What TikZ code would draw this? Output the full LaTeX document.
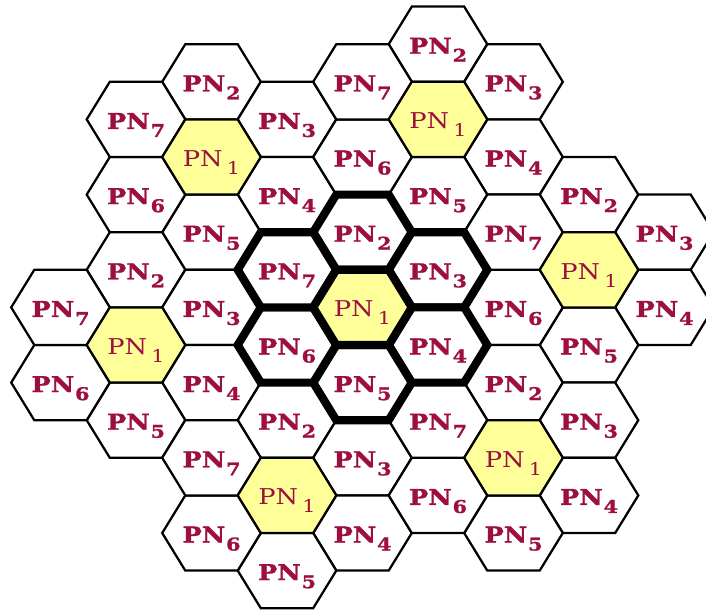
\documentclass[tikz,border=0pt]{standalone}
\usepackage{fontspec}
\newfontfamily\pnfont[FakeStretch=1.18, BoldFeatures={FakeBold=1.2}]{DejaVu Serif}
\definecolor{colRed}{HTML}{9C0F3F}
\definecolor{colYellow}{HTML}{FFFF99}
\def\lblfont{\fontsize{15.5pt}{17pt}\selectfont}
\def\subfont{\fontsize{12.5pt}{13pt}\selectfont}
\newcommand{\pn}[1]{\pnfont\bfseries PN\kern0.6pt\raisebox{-5.7pt}{\subfont #1}}
\newcommand{\pnone}{\pnfont PN\kern3pt\raisebox{-5.7pt}{\subfont 1}}
\tikzset{
  cell/.style={draw=black, line width=1.6pt, fill=white},
  core/.style={line width=5.8pt},
  lbl/.style={anchor=base, inner sep=0pt, font=\lblfont, text=colRed}
}
\newcommand{\hexat}[3]{%
  \draw[#1] (#2-49.3,#3) -- (#2-26.2,#3-37.6) -- (#2+26.2,#3-37.6)
    -- (#2+49.3,#3) -- (#2+26.2,#3+37.6) -- (#2-26.2,#3+37.6) -- cycle;}
\newcommand{\hcell}[5][]{%
  \pgfmathsetmacro{\cx}{362.5+75.5*(#2)}%
  \pgfmathsetmacro{\cy}{307.4+37.6*(#3)}%
  \hexat{cell,#1}{\cx}{\cy}%
  \node[lbl] (#4#5) at (\cx,\cy+9.5) {\pn{#5}};}
\newcommand{\ycell}[4][]{%
  \pgfmathsetmacro{\cx}{362.5+75.5*(#2)}%
  \pgfmathsetmacro{\cy}{307.4+37.6*(#3)}%
  \hexat{cell,fill=colYellow,#1}{\cx}{\cy}%
  \node[lbl] (#41) at (\cx,\cy+9.5) {\pnone};}

\begin{document}
\begin{tikzpicture}[x=0.025cm, y=-0.025cm]
\useasboundingbox (0,0) rectangle (706,612);
\clip (0,0) rectangle (706,612);

% ===================== TOP-LEFT CLUSTER =====================
\hcell{-2}{-6}{tl}{2}
\hcell{-1}{-5}{tl}{3}
\hcell{-1}{-3}{tl}{4}
\hcell{-2}{-2}{tl}{5}
\hcell{-3}{-3}{tl}{6}
\hcell{-3}{-5}{tl}{7}
\ycell{-2}{-4}{tl}

% ===================== TOP CLUSTER =====================
\hcell{1}{-7}{top}{2}
\hcell{2}{-6}{top}{3}
\hcell{2}{-4}{top}{4}
\hcell{1}{-3}{top}{5}
\hcell{0}{-4}{top}{6}
\hcell{0}{-6}{top}{7}
\ycell{1}{-5}{top}

% ===================== RIGHT CLUSTER =====================
\hcell{3}{-3}{rgt}{2}
\hcell{4}{-2}{rgt}{3}
\hcell{4}{0}{rgt}{4}
\hcell{3}{1}{rgt}{5}
\hcell{2}{0}{rgt}{6}
\hcell{2}{-2}{rgt}{7}
\ycell{3}{-1}{rgt}

% ===================== LEFT CLUSTER =====================
\hcell{-3}{-1}{lft}{2}
\hcell{-2}{0}{lft}{3}
\hcell{-2}{2}{lft}{4}
\hcell{-3}{3}{lft}{5}
\hcell{-4}{2}{lft}{6}
\hcell{-4}{0}{lft}{7}
\ycell{-3}{1}{lft}

% ===================== BOTTOM CLUSTER =====================
\hcell{-1}{3}{bot}{2}
\hcell{0}{4}{bot}{3}
\hcell{0}{6}{bot}{4}
\hcell{-1}{7}{bot}{5}
\hcell{-2}{6}{bot}{6}
\hcell{-2}{4}{bot}{7}
\ycell{-1}{5}{bot}

% ===================== BOTTOM-RIGHT CLUSTER =====================
\hcell{2}{2}{br}{2}
\hcell{3}{3}{br}{3}
\hcell{3}{5}{br}{4}
\hcell{2}{6}{br}{5}
\hcell{1}{5}{br}{6}
\hcell{1}{3}{br}{7}
\ycell{2}{4}{br}

% ===================== CENTRE CLUSTER (thick) =====================
\hcell[core]{0}{-2}{ctr}{2}
\hcell[core]{1}{-1}{ctr}{3}
\hcell[core]{1}{1}{ctr}{4}
\hcell[core]{0}{2}{ctr}{5}
\hcell[core]{-1}{1}{ctr}{6}
\hcell[core]{-1}{-1}{ctr}{7}
\ycell[core]{0}{0}{ctr}
\end{tikzpicture}
\end{document}
